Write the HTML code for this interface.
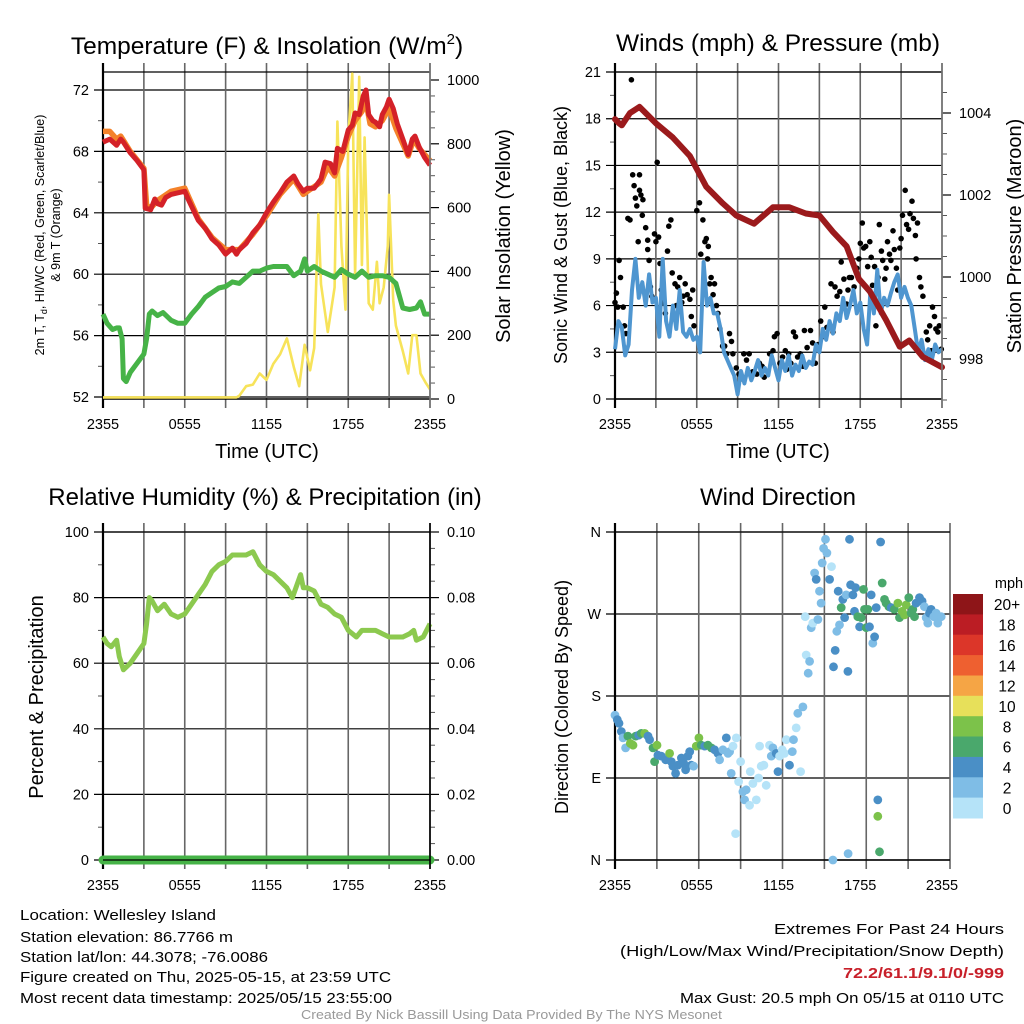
<!DOCTYPE html>
<html><head><meta charset="utf-8"><style>
html,body{margin:0;padding:0;background:#fff;}
svg{display:block;font-family:"Liberation Sans",sans-serif;}
.n{font-family:"Liberation Sans Narrow","Liberation Sans",sans-serif;}
</style></head><body>
<svg id="s" width="1024" height="1024" viewBox="0 0 1024 1024" xmlns="http://www.w3.org/2000/svg">
<rect width="1024" height="1024" fill="#fff"/>
<g id="g1"></g>
<g id="g2"></g>
<g id="g3"></g>
<g id="g4"></g>
<text x="267" y="54" font-size="24.5" text-anchor="middle">Temperature (F) &amp; Insolation (W/m<tspan font-size="15" dy="-10">2</tspan><tspan dy="10">)</tspan></text>
<text x="778" y="51" font-size="24.5" text-anchor="middle">Winds (mph) &amp; Pressure (mb)</text>
<text x="265" y="505" font-size="24" text-anchor="middle">Relative Humidity (%) &amp; Precipitation (in)</text>
<text x="778" y="505" font-size="24" text-anchor="middle">Wind Direction</text>
<text transform="translate(44,235) rotate(-90)" font-size="12.5" text-anchor="middle">2m T, T<tspan font-size="9" dy="3">d</tspan><tspan dy="-3">, HI/WC (Red, Green, Scarlet/Blue)</tspan></text>
<text transform="translate(60,235) rotate(-90)" font-size="12.5" text-anchor="middle">&amp; 9m T (Orange)</text>
<text transform="translate(510,236) rotate(-90)" font-size="20" text-anchor="middle">Solar Insolation (Yellow)</text>
<text x="267" y="458" font-size="20" text-anchor="middle">Time (UTC)</text>
<text x="778" y="458" font-size="20" text-anchor="middle">Time (UTC)</text>
<text transform="translate(567,235) rotate(-90)" font-size="18" text-anchor="middle">Sonic Wind &amp; Gust (Blue, Black)</text>
<text transform="translate(1021,236) rotate(-90)" font-size="20" text-anchor="middle">Station Pressure (Maroon)</text>
<text transform="translate(43,697) rotate(-90)" font-size="20" text-anchor="middle">Percent &amp; Precipitation</text>
<text transform="translate(568,697) rotate(-90)" font-size="18" text-anchor="middle">Direction (Colored By Speed)</text>
<g class="n" font-size="15">
<text x="20" y="920" textLength="196" lengthAdjust="spacingAndGlyphs">Location: Wellesley Island</text>
<text x="20" y="942" textLength="213" lengthAdjust="spacingAndGlyphs">Station elevation: 86.7766 m</text>
<text x="20" y="962" textLength="248" lengthAdjust="spacingAndGlyphs">Station lat/lon: 44.3078; -76.0086</text>
<text x="20" y="982" textLength="371" lengthAdjust="spacingAndGlyphs">Figure created on Thu, 2025-05-15, at 23:59 UTC</text>
<text x="20" y="1003" textLength="372" lengthAdjust="spacingAndGlyphs">Most recent data timestamp: 2025/05/15 23:55:00</text>
</g>
<g class="n" font-size="15">
<text x="774" y="934" textLength="230" lengthAdjust="spacingAndGlyphs">Extremes For Past 24 Hours</text>
<text x="620" y="956" textLength="384" lengthAdjust="spacingAndGlyphs">(High/Low/Max Wind/Precipitation/Snow Depth)</text>
<text x="843" y="978" textLength="161" lengthAdjust="spacingAndGlyphs" fill="#c8202a" font-weight="bold">72.2/61.1/9.1/0/-999</text>
<text x="680" y="1003" textLength="324" lengthAdjust="spacingAndGlyphs">Max Gust: 20.5 mph On 05/15 at 0110 UTC</text>
</g>
<text class="n" x="301" y="1019" textLength="421" lengthAdjust="spacingAndGlyphs" font-size="12.5" fill="#999">Created By Nick Bassill Using Data Provided By The NYS Mesonet</text>
</svg>
<script>
// ---- data ----
const timeLabels=["2355","0555","1155","1755","2355"];
const tempTicks=[52,56,60,64,68,72];
const insolTicks=[0,200,400,600,800,1000];
const windTicks=[0,3,6,9,12,15,18,21];
const presTicks=[998,1000,1002,1004];
const rhTicks=[0,20,40,60,80,100];
const precipTicks=["0.00","0.02","0.04","0.06","0.08","0.10"];
const dirLabels=["N","E","S","W","N"];
const speedBins=["0","2","4","6","8","10","12","14","16","18","20+"];
const speedColors=["#b5e3f8","#7fbde6","#4a8fc6","#4aa86c","#7cc24a","#e7e05a","#f5a545","#ee6030","#dc3629","#bb1d24","#8e1518"];

const redH=[0,0.5,1,1.3,1.5,2,2.5,3,3.1,3.5,3.8,4,4.3,4.6,5,5.5,6,6.3,7,7.5,8,8.5,9,9.5,9.8,10,10.5,11,11.5,12,12.5,13,13.5,14,14.3,14.7,15,15.5,16,16.3,16.7,17,17.2,17.6,18,18.3,18.5,18.8,19.1,19.3,19.5,19.8,20,20.3,20.5,20.8,21,21.3,21.6,22,22.4,22.7,22.9,23.2,23.6,24];
const redT=[68.6,68.8,68.4,68.8,68.6,67.9,67.4,66.8,64.3,64.2,64.9,64.6,64.5,65,65.2,65.3,65.4,64.8,63.5,63,62.3,61.9,61.3,61.7,61.3,61.6,62,62.7,63.2,64,64.7,65.3,66,66.4,65.9,65.4,65.6,65.6,66.2,67.3,67.2,66.6,68.2,68,69.4,69.7,70.5,70.4,71.6,72,70.4,70,69.9,69.6,70.4,70.9,71.4,70.8,69.8,68.8,67.8,68.8,69,68.3,67.6,67.1];
const orgH=[0,0.5,1,1.3,2,3,3.2,3.5,4,5,6,7,8,9,10,11,12,13,14,14.7,15,16,16.5,17,17.5,18,18.5,19,19.3,19.6,20,20.5,21,21.5,22,22.4,22.8,23.2,23.6,24];
const orgT=[69.3,69.3,68.8,69,68,66.9,64.5,64.3,64.8,65.4,65.6,63.6,62.4,61.6,61.6,62.6,63.8,65.2,66.2,65.2,65.4,66,67,66.4,67.6,69,70,70.6,71.2,69.8,69.6,70,70.8,69.5,68.5,67.7,68.8,68.2,67.8,67.4];
const dewH=[0,0.3,0.7,1,1.2,1.4,1.5,1.7,2,2.5,3,3.2,3.4,3.6,4,4.4,5,5.5,6,6.5,7,7.5,8,8.5,9,9.5,10,10.5,11,11.5,12,12.5,13,13.5,14,14.5,14.8,15,15.5,16,16.5,17,17.5,18,18.5,19,19.5,20,20.5,21,21.5,22,22.5,23,23.3,23.6,24];
const dewT=[57.4,56.8,56.4,56.5,56.5,55.8,53.2,53,53.6,54.2,54.8,55.8,57.4,57.6,57.3,57.5,57,56.8,56.8,57.4,57.9,58.5,58.8,59.1,59.2,59.5,59.4,59.8,60.2,60.2,60.4,60.5,60.5,60.5,59.9,60.2,61,60.2,60.5,60.2,60,59.8,60.3,60,59.8,60.2,59.8,59.9,59.9,59.8,59.4,57.8,57.7,57.8,58.2,57.4,57.4];
const solH=[0,9.8,10,10.5,11,11.5,12,12.5,13,13.5,14,14.4,14.8,15.2,15.5,15.8,16,16.5,17,17.2,17.5,17.8,18,18.3,18.5,18.8,19,19.2,19.5,19.8,20.1,20.3,20.6,20.9,21,21.3,21.5,22,22.4,22.7,23,23.3,23.7,24];
const solW=[5,5,10,40,45,80,60,110,140,190,100,40,170,90,160,580,360,210,350,870,480,280,820,1020,390,1010,420,820,300,280,430,300,350,480,640,310,230,150,80,200,200,80,50,30];

const presH=[0,0.3,0.5,1.1,1.8,3,4.25,5.5,6.7,7.9,8.9,10.2,11.6,12.8,14,15,16,17,17.9,18.7,19.9,20.9,21.6,22.6,24];
const presV=[1003.85,1003.75,1003.7,1004,1004.15,1003.75,1003.4,1002.95,1002.2,1001.8,1001.5,1001.3,1001.7,1001.7,1001.55,1001.5,1001.1,1000.75,999.95,999.65,998.95,998.3,998.45,998.05,997.8];
const windSpd=[3.2,5,4.6,2.8,3.5,7,9,6.5,7.5,6,8,6.2,6.5,4,9,5,4,6,4.5,7,4.3,4,4.5,3.8,4,3,8.8,6,6.5,5.5,5.5,4.5,3,2.5,2,1.5,0.3,1.8,1,2,1.2,1.8,2.5,1.5,2,1.5,2.8,2,1.2,2.5,1.8,2.8,1.5,2.2,1.8,2.8,2,2.4,2.2,3.5,3,4.5,3.8,5,4.2,5.5,5,6.5,5.2,6,7,5.5,6.2,4.5,3.5,7,5.5,8.3,5.5,6.5,6,6.8,7.5,8,6.5,7.2,6.5,6,4.5,3,3.8,2.5,3.2,2.5,3.5,3,3.2];
const gustH=[0,0.1,0.2,0.3,0.4,0.6,0.7,0.8,0.95,1.1,1.2,1.3,1.4,1.5,1.6,1.7,1.8,1.8,1.9,2.05,2,2.25,2.4,2.4,2.5,2.6,2.7,2.9,3,3.1,3.2,3.3,3.4,3.6,3.7,3.85,3.95,4.1,4.2,4.4,4.5,4.6,4.75,4.9,5,5.15,5.3,5.5,5.6,5.7,5.8,6,6.2,6.3,6.45,6.6,6.7,6.8,6.85,6.95,7.05,7.2,7.3,7.45,7.55,7.7,7.9,8.05,8.2,8.4,8.55,8.65,8.9,9.1,9.25,9.45,9.65,9.85,10.1,10.4,10.6,10.8,10.95,11.35,11.6,11.7,11.9,12.1,12.3,12.5,12.6,12.75,12.9,13.1,13.25,13.4,13.6,13.8,13.9,14.1,14.35,14.5,14.7,14.9,15.1,15.25,15.4,15.55,15.75,15.85,16,16.15,16.3,16.5,16.6,16.8,17,17.1,17.2,17.35,17.55,17.75,17.9,18,18.15,18.25,18.4,18.55,18.7,18.8,18.9,19.05,19.15,19.3,19.4,19.55,19.65,19.8,19.9,20,20.15,20.25,20.4,20.5,20.65,20.75,20.9,21,21.1,21.3,21.4,21.55,21.65,21.8,21.9,22.05,22.1,22.2,22.35,22.45,22.6,22.85,22.95,23.1,23.2,23.3,23.45,23.55,23.7,23.8,23.95];
const gustV=[6.2,6.8,5.9,8.9,7.8,5.9,4.7,4.2,11.6,11.5,20.5,14.4,13.7,12.9,12.4,10.1,14.4,13.4,13.1,12.8,11.8,11,10.2,9.6,8.9,7.2,6.6,10.6,10.1,15.2,10.4,8.7,7,6.2,5.5,9.5,11.1,11.5,8.1,7.4,6,7.2,7.8,6.2,6.6,7.4,6.7,6.4,5.3,7,4.7,12.1,12.6,9.3,11.5,10.1,10.3,9,9.8,7.4,7.8,6.7,7.4,6,5.5,4.5,3.4,3.4,2.9,4.2,3.7,2.9,2,1.6,1.3,2.9,2.5,2.9,1.75,1.6,2.3,2.1,1.4,2.9,3.1,4,4.2,2.3,2.7,3.1,1.9,2.9,2.3,4.3,4,2.7,2.9,2.1,4.4,3.3,4.4,3.6,2.3,3.5,5,4,5.9,4.6,4.6,7.4,4.3,7.2,6.6,6.9,8.8,7.7,6.1,7,7.8,7.8,7.2,8.4,9,10,11.3,9.7,9.8,8.5,10.1,9.1,7.3,8.5,4.7,7.8,11.2,9.5,8.9,7.7,8.4,10.1,9.3,8.9,10.8,9.6,8.4,7,9.7,10.3,11.8,13.4,11.2,10.9,11.9,12.7,11.6,10.5,9,11.3,7.8,7.2,6.6,4.3,3.8,4.7,3.1,5.9,5.3,4.5,4.3,4.7,3.2];

const rhH=[0,0.3,0.6,1,1.2,1.5,2,2.5,3,3.2,3.4,3.6,4,4.5,5,5.5,6,6.5,7,7.5,8,8.5,9,9.5,10,10.5,11,11.5,12,12.5,13,13.5,13.9,14.5,14.7,15,15.5,16,16.5,17,17.5,18,18.6,19,19.5,20,20.5,21,21.5,22,22.5,22.8,23,23.5,24];
const rhV=[68,66,65,67,62,58,60,63,66,72,80,79,76,78,75,74,75,78,81,84,88,90,91,93,93,93,94,90,88,87,85,83,80,87,83,83,82,78,77,75,74,70,68,70,70,70,69,68,68,68,69,70,67,68,72];
const precipH=[0,24];
const precipV=[0,0];

const dirH=[0,0.17,0.29,0.46,0.59,0.78,0.95,1.12,1.32,1.52,1.74,1.93,2.18,2.42,2.54,2.79,3.08,2.91,3.15,3.4,3.72,4.01,4.13,4.25,4.45,4.62,4.87,5.04,5.18,5.35,5.48,5.6,5.77,5.97,6.16,6.33,6.58,6.82,7.07,7.31,7.55,7.68,7.92,8.17,8.29,8.41,8.53,8.66,8.9,9.07,9.22,9.39,9.51,9.63,9.88,9.93,10.12,10.37,10.54,10.61,10.73,10.93,11.1,11.34,11.47,11.59,11.83,11.96,12.08,12.27,12.44,12.57,12.81,13.01,13.1,13.3,13.42,13.62,13.79,8.85,13.96,14.03,14.18,14.28,14.4,14.52,14.65,14.77,14.89,15.01,15.13,15.21,15.31,15.45,15.55,15.75,15.89,15.99,16.04,16.16,16.28,16.38,16.48,16.6,16.72,16.85,16.97,17.09,17.11,17.21,17.29,17.46,17.58,17.65,17.82,17.95,18.07,18.24,18.31,18.44,18.56,18.68,18.8,18.92,19.05,19.17,19.29,19.29,19.41,19.49,19.61,19.78,19.9,20.1,20.27,20.51,20.76,20.88,21.08,21.25,21.37,21.56,21.74,21.86,21.98,22.1,22.35,22.54,22.71,22.84,22.96,23.08,23.2,23.4,23.57,23.69,23.94];
const dirDeg=[159,154,150,141,134,123,136,128,126,136,137,139,139,136,132,123,126,108,115,114,110,117,108,103,95,104,112,106,99,114,119,104,103,125,134,126,125,126,123,121,117,110,121,134,117,119,95,125,134,86,108,75,66,77,60,97,84,66,90,125,103,104,82,126,114,123,117,97,114,121,117,132,104,119,132,145,161,97,168,29,267,225,205,218,255,260,315,308,264,295,282,326,342,352,337,308,322,0,212,230,251,295,258,277,286,266,291,207,7,352,302,291,273,299,267,256,266,297,275,255,275,256,291,238,245,277,66,48,9,349,304,286,282,278,277,275,282,266,273,269,280,288,271,275,267,282,288,284,278,266,260,271,275,267,271,260,267];
const dirSpd=[3,5,5,5,3,3,7,9,9,7,5,7,9,5,5,7,9,7,5,5,5,9,5,5,5,5,5,5,5,5,5,5,3,9,9,7,5,7,7,5,5,3,3,5,3,3,3,1,1,1,1,3,3,3,1,1,1,1,1,1,1,1,1,1,3,3,5,5,1,1,1,1,5,3,3,1,3,1,3,1,1,1,3,3,3,1,3,5,3,3,3,3,3,3,3,5,1,3,5,5,3,5,3,7,5,5,3,5,3,5,5,5,5,5,7,5,7,7,7,7,7,5,5,3,5,5,5,9,7,5,7,7,7,7,5,7,9,7,9,9,9,7,7,7,7,5,5,5,3,3,3,5,5,3,3,3,3];

// ---- drawing ----
const NS="http://www.w3.org/2000/svg";
function mk(parent,tag,attrs){const e=document.createElementNS(NS,tag);for(const k in attrs)e.setAttribute(k,attrs[k]);parent.appendChild(e);return e;}
function txt(parent,x,y,s,size,anchor){const t=mk(parent,'text',{x:x,y:y,'font-size':size,'text-anchor':anchor});t.textContent=s;return t;}

function frame(g,X0,X1,Y0,Y1,leftTicks,leftMinor,rightTicks,rightMinor,xLabels){
  leftTicks.forEach(t=>{const l=mk(g,'line',{x1:X0-9,x2:X1,y1:t.y,y2:t.y,stroke:'#000','stroke-width':1.2});
    
    
    const lb=txt(g,X0-14,t.y+5,t.label,14.5,'end');
    
    });
  leftMinor.forEach(y=>mk(g,'line',{x1:X0-5,x2:X0,y1:y,y2:y,stroke:'#555','stroke-width':1}));
  rightTicks.forEach(t=>{mk(g,'line',{x1:X1,x2:X1+9,y1:t.y,y2:t.y,stroke:'#000','stroke-width':1.2});
    const lb=txt(g,X1+17,t.y+5,t.label,14.5,'start');
    
    });
  rightMinor.forEach(y=>mk(g,'line',{x1:X1,x2:X1+5,y1:y,y2:y,stroke:'#555','stroke-width':1}));
  for(let i=0;i<=8;i++){const x=X0+i*(X1-X0)/8;
    const l=mk(g,'line',{x1:x,x2:x,y1:Y0-9,y2:Y1+9,stroke:(i==0?'#000':'#666'),'stroke-width':(i==0?2.2:1.6)});
    
    }
  mk(g,'line',{x1:X0,x2:X1,y1:Y0,y2:Y0,stroke:'#000','stroke-width':1.2});
  mk(g,'line',{x1:X0,x2:X1,y1:Y1,y2:Y1,stroke:'#000','stroke-width':1.5});
  xLabels.forEach((s,i)=>{const lb=txt(g,X0+i*(X1-X0)/4,Y1+30,s,14.5,'middle');
    
    });
}
function pathD(hs,vs,xf,yf){return hs.map((h,i)=>(i?'L':'M')+xf(h).toFixed(1)+','+yf(vs[i]).toFixed(1)).join('');}

// Panel 1
(function(){
  const g=document.getElementById('g1');const X0=103,X1=430,Y0=72,Y1=399;
  const x=h=>X0+h*(X1-X0)/24, yT=v=>397-(v-52)*(307/20), yS=v=>399-v*0.319;
  const lm=[],rm=[];for(let v=54;v<=72;v+=4)lm.push(yT(v));for(let v=50;v<=1000;v+=50)if(v%200)rm.push(yS(v));
  frame(g,X0,X1,Y0,Y1,tempTicks.map(v=>({y:yT(v),label:v})),lm,insolTicks.map(v=>({y:yS(v),label:v})),rm,timeLabels);
  const cl=mk(g,'clipPath',{id:'c1'});mk(cl,'rect',{x:X0,y:Y0,width:X1-X0,height:Y1-Y0+3});
  let p=mk(g,'path',{d:pathD(solH,solW,x,yS),fill:'none',stroke:'#f7e35a','stroke-width':2.6,'clip-path':'url(#c1)','stroke-linejoin':'round'});
  
  p=mk(g,'path',{d:pathD(dewH,dewT,x,yT),fill:'none',stroke:'#46b347','stroke-width':5,'stroke-linejoin':'round'});
  
  p=mk(g,'path',{d:pathD(orgH,orgT,x,yT),fill:'none',stroke:'#f4822a','stroke-width':5.5,'stroke-linejoin':'round'});
  
  p=mk(g,'path',{d:pathD(redH,redT,x,yT),fill:'none',stroke:'#d42128','stroke-width':5,'stroke-linejoin':'round'});
  
  mk(g,'line',{x1:X1,x2:X1,y1:Y0-9,y2:Y1+9,stroke:'#777','stroke-width':1.6});
})();

// Panel 2
(function(){
  const g=document.getElementById('g2');const X0=615,X1=942,Y0=72,Y1=399;
  const x=h=>X0+h*(X1-X0)/24, yW=v=>399-v*(327/21), yP=v=>277-(v-1000)*41;
  const lm=[];for(let v=1.5;v<21;v+=3)lm.push(yW(v));const rm=[];for(let v=997;v<=1004.8;v+=0.5)if(v%2)rm.push(yP(v));
  frame(g,X0,X1,Y0,Y1,windTicks.map(v=>({y:yW(v),label:v})),lm,presTicks.map(v=>({y:yP(v),label:v})),rm,timeLabels);
  gustH.forEach((h,i)=>{const c=mk(g,'circle',{cx:x(h).toFixed(1),cy:yW(gustV[i]).toFixed(1),r:2.8,fill:'#000'});
    
    });
  const wh=windSpd.map((v,i)=>i*24/(windSpd.length-1));
  let p=mk(g,'path',{d:pathD(wh,windSpd,x,yW),fill:'none',stroke:'#4f96d0','stroke-width':4,'stroke-linejoin':'round'});
  
  p=mk(g,'path',{d:pathD(presH,presV,x,yP),fill:'none',stroke:'#9b1a1c','stroke-width':6,'stroke-linejoin':'round','stroke-linecap':'round'});
  
  mk(g,'line',{x1:X1,x2:X1,y1:Y0-9,y2:Y1+9,stroke:'#777','stroke-width':1.6});
})();

// Panel 3
(function(){
  const g=document.getElementById('g3');const X0=103,X1=430,Y0=532,Y1=860;
  const x=h=>X0+h*(X1-X0)/24, yR=v=>Y1-v*3.28;
  const lm=[];for(let v=10;v<100;v+=20)lm.push(yR(v));const rm=[];for(let v=5;v<100;v+=5)if(v%20)rm.push(yR(v));
  frame(g,X0,X1,Y0,Y1,rhTicks.map(v=>({y:yR(v),label:v})),lm,precipTicks.map((s,i)=>({y:yR(i*20),label:s})),rm,timeLabels);
  let p=mk(g,'path',{d:pathD(rhH,rhV,x,yR),fill:'none',stroke:'#8cc94f','stroke-width':5,'stroke-linejoin':'round'});
  
  p=mk(g,'path',{d:pathD(precipH,precipV.map(v=>v*1000),x,yR),fill:'none',stroke:'#46b347','stroke-width':9,'stroke-linecap':'round'});
  
  mk(g,'line',{x1:X1,x2:X1,y1:Y0-9,y2:Y1+9,stroke:'#000','stroke-width':1.6});
  mk(g,'line',{x1:X0,x2:X1,y1:Y1,y2:Y1,stroke:'#000','stroke-width':1.2});
})();

// Panel 4
(function(){
  const g=document.getElementById('g4');const X0=615,X1=942,Y0=532,Y1=860;
  const x=h=>X0+h*(X1-X0)/24, yD=d=>Y1-d*(Y1-Y0)/360;
  frame(g,X0,X1+8,Y0,Y1,dirLabels.map((s,i)=>({y:yD(i*90),label:s})),[],[],[],[]);
  timeLabels.forEach((s,i)=>{const lb=txt(g,X0+i*(X1-X0)/4,Y1+30,s,14.5,'middle');
    
    });
  dirH.forEach((h,i)=>{const s=dirSpd[i]||3;const c=mk(g,'circle',{cx:x(h).toFixed(1),cy:yD(dirDeg[i]).toFixed(1),r:4.4,fill:speedColors[Math.min(10,Math.floor(s/2))]});
    
    });
  const cb=mk(g,'g',{});
  
  
  const top=594,bh=(818-594)/11;
  speedColors.slice().reverse().forEach((c,i)=>{mk(cb,'rect',{x:953,y:(top+i*bh).toFixed(1),width:30,height:(bh+0.5).toFixed(1),fill:c});
    const lb=txt(cb,1007,top+i*bh+bh/2+6,speedBins[10-i],15.5,'middle');
    
    });
  const m=txt(cb,1009,588,'mph',14.5,'middle');
  
  
})();
</script>
</body></html>
